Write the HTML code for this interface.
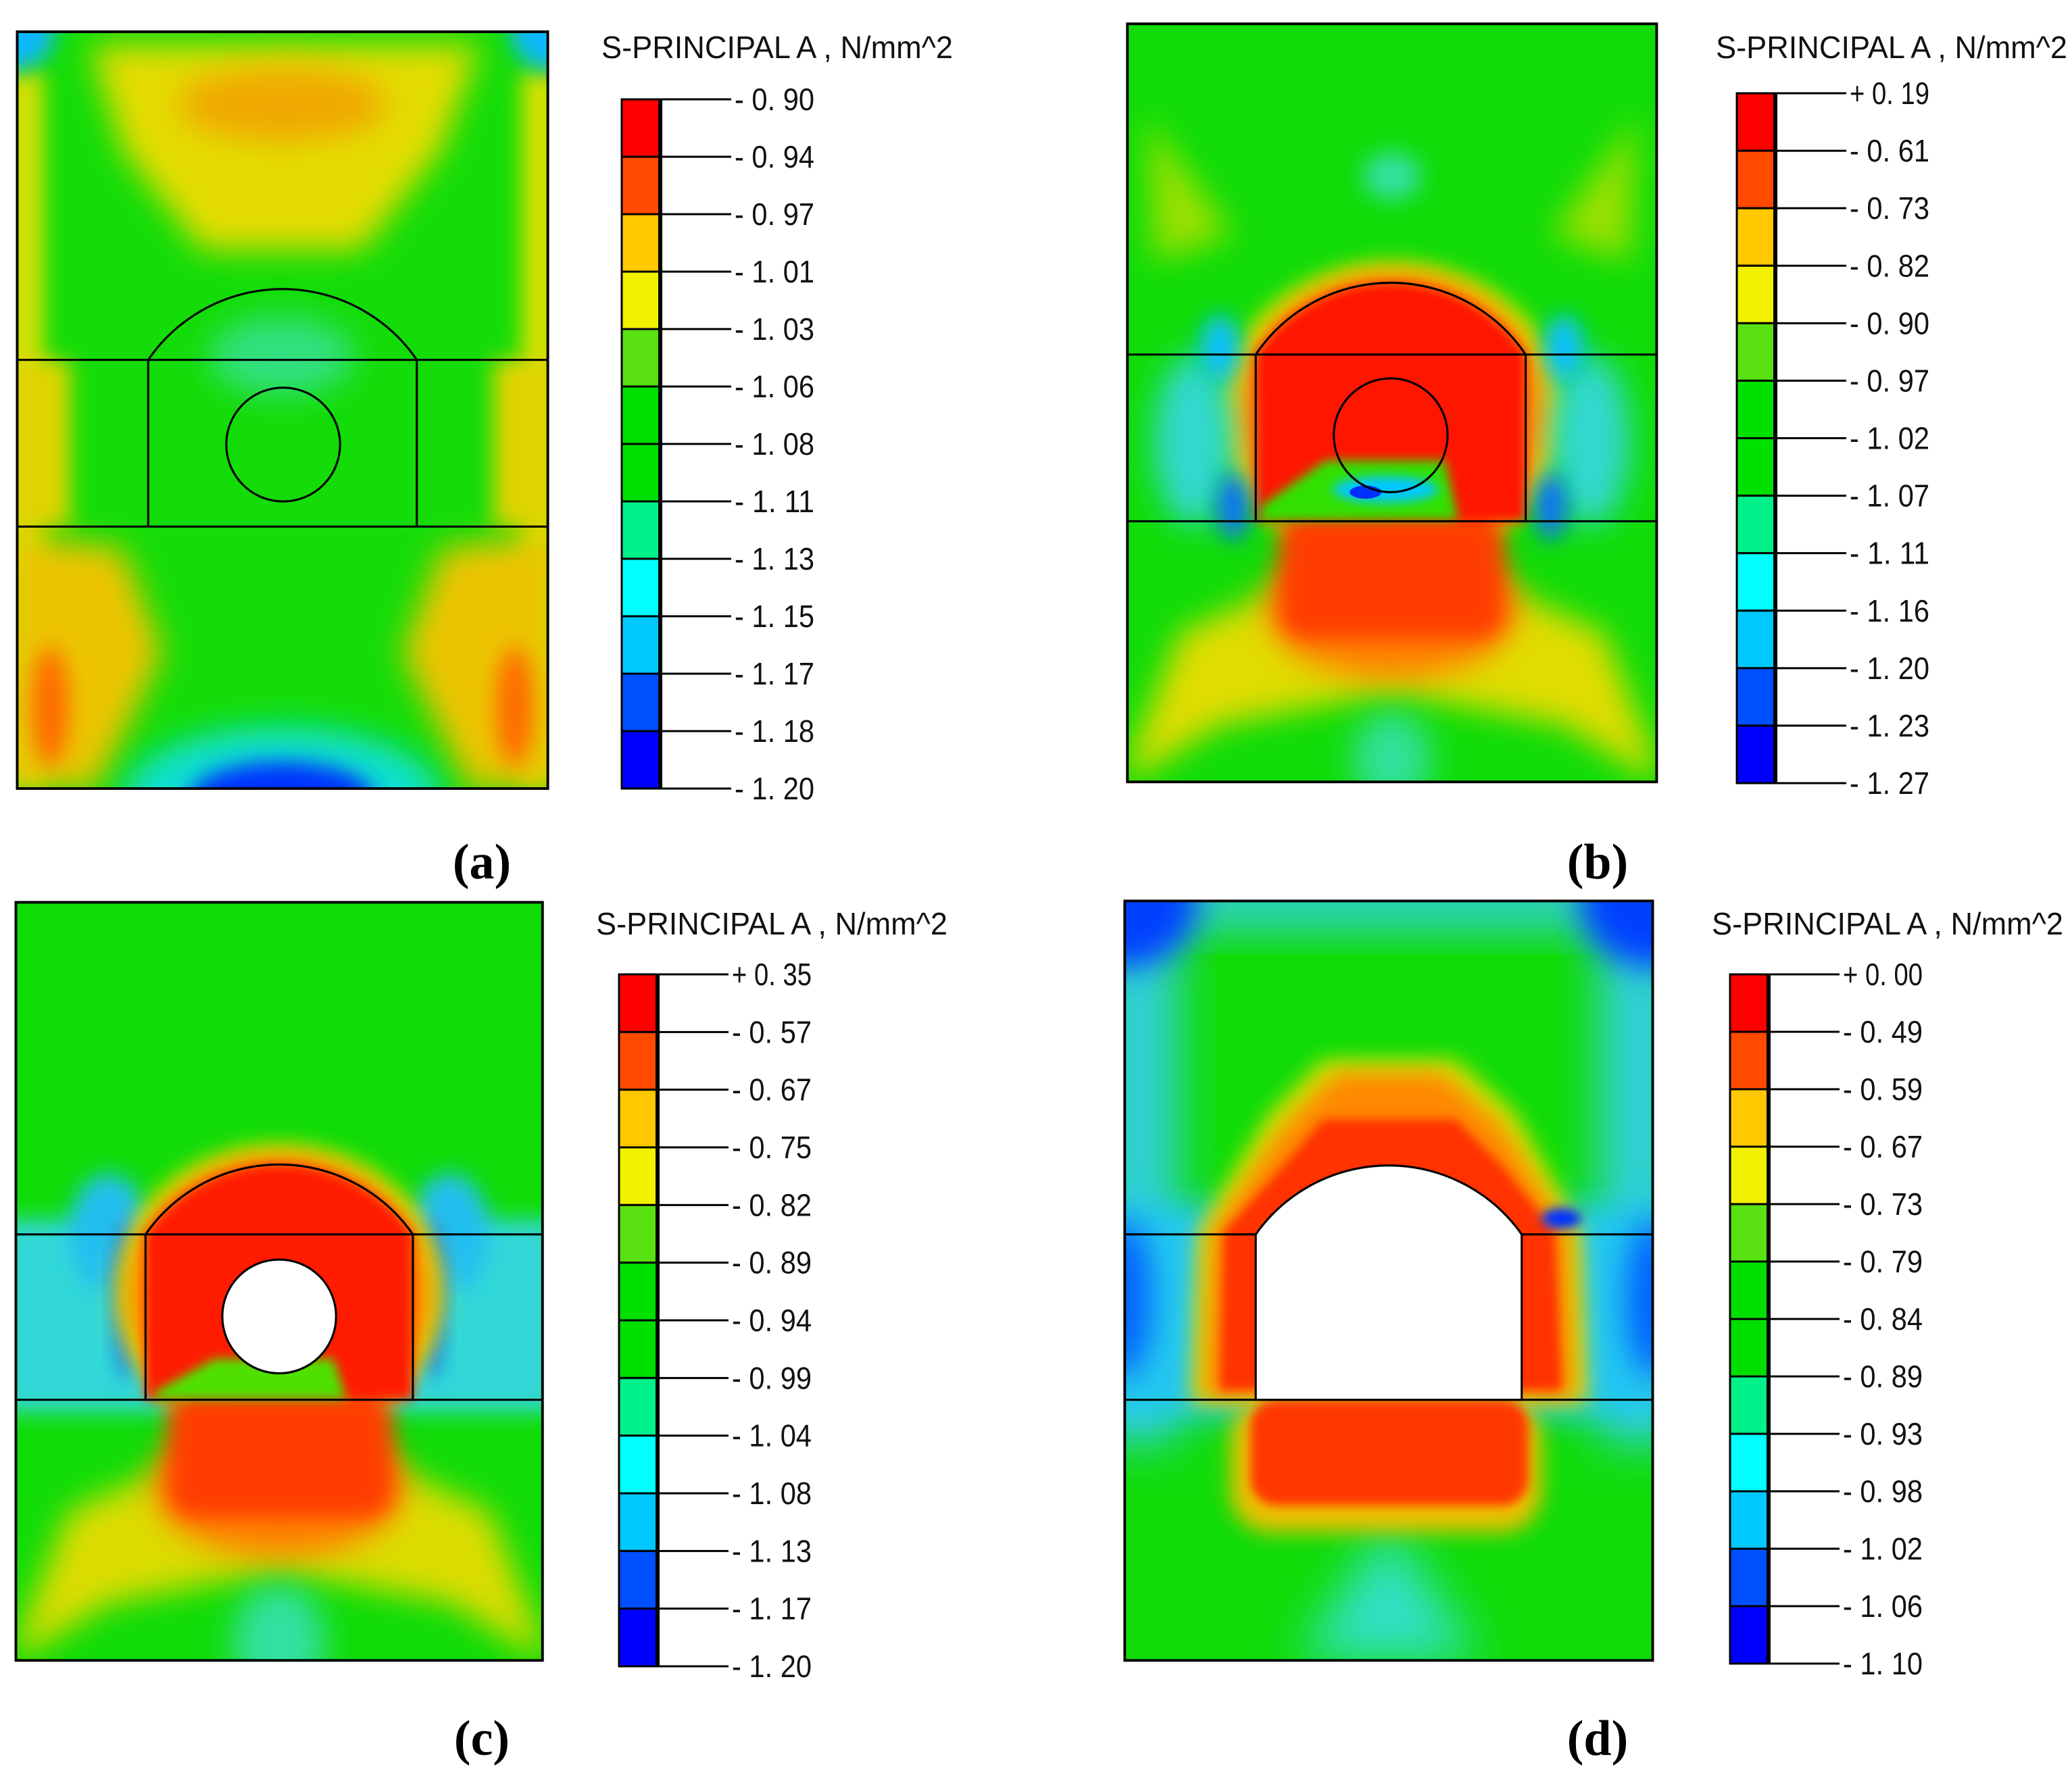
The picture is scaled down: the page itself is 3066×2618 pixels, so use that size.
<!DOCTYPE html>
<html><head><meta charset="utf-8"><style>
html,body{margin:0;padding:0;background:#fff;}
svg{display:block;}
</style></head><body>
<svg id="fig" xmlns="http://www.w3.org/2000/svg" width="3066" height="2618" viewBox="0 0 3066 2618">
<defs>
<filter id="b4" x="-50%" y="-50%" width="200%" height="200%"><feGaussianBlur stdDeviation="4"/></filter>
<filter id="b8" x="-50%" y="-50%" width="200%" height="200%"><feGaussianBlur stdDeviation="8"/></filter>
<filter id="b12" x="-50%" y="-50%" width="200%" height="200%"><feGaussianBlur stdDeviation="12"/></filter>
<filter id="b18" x="-50%" y="-50%" width="200%" height="200%"><feGaussianBlur stdDeviation="18"/></filter>
<clipPath id="ca"><rect x="0" y="0" width="401" height="572"/></clipPath>
<clipPath id="cb"><rect x="0" y="0" width="400" height="573"/></clipPath>
<clipPath id="cc"><rect x="0" y="0" width="398" height="573"/></clipPath>
<clipPath id="cd"><rect x="0" y="0" width="399" height="574"/></clipPath>
</defs>

<g transform="scale(1.958)">
<g transform="translate(13,24)">
 <g clip-path="url(#ca)">
  <rect width="401" height="572" fill="#14dc08"/>
  <rect x="-10" y="30" width="30" height="540" fill="#d6e000" filter="url(#b8)"/>
  <rect x="381" y="30" width="30" height="540" fill="#d6e000" filter="url(#b8)"/>
  <polygon points="55,10 350,10 320,90 260,165 140,165 80,90" fill="#e4dc00" filter="url(#b12)"/>
  <ellipse cx="200" cy="55" rx="80" ry="28" fill="#f0a800" filter="url(#b12)"/>
  <rect x="-10" y="248" width="50" height="126" fill="#e0d400" filter="url(#b8)"/>
  <rect x="360" y="248" width="50" height="126" fill="#e0d400" filter="url(#b8)"/>
  <polygon points="-5,380 80,390 110,470 60,572 -5,572" fill="#ecc400" filter="url(#b12)"/>
  <polygon points="406,380 321,390 291,470 341,572 406,572" fill="#ecc400" filter="url(#b12)"/>
  <ellipse cx="25" cy="510" rx="14" ry="45" fill="#ff6a00" filter="url(#b8)"/>
  <ellipse cx="376" cy="510" rx="14" ry="45" fill="#ff6a00" filter="url(#b8)"/>
  <ellipse cx="200" cy="245" rx="55" ry="30" fill="#30e080" filter="url(#b12)"/>
  <ellipse cx="200" cy="580" rx="120" ry="55" fill="#10e0d0" filter="url(#b12)"/>
  <ellipse cx="200" cy="580" rx="70" ry="28" fill="#0030ff" filter="url(#b8)"/>
  <ellipse cx="0" cy="0" rx="28" ry="28" fill="#10b8ff" filter="url(#b8)"/>
  <ellipse cx="401" cy="0" rx="28" ry="28" fill="#10b8ff" filter="url(#b8)"/>
 </g>
 <g fill="none" stroke="#000" stroke-width="1.6">
  <line x1="0" y1="248" x2="401" y2="248"/>
  <line x1="0" y1="374" x2="401" y2="374"/>
  <path d="M99,374 L99,248 A123,123 0 0 1 302,248 L302,374"/>
  <circle cx="201" cy="312" r="43"/>
  <rect x="0" y="0" width="401" height="572" stroke-width="2"/>
 </g>
</g>

<g transform="translate(852,18)">
 <g clip-path="url(#cb)">
  <rect width="400" height="573" fill="#10dc08"/>
  <polygon points="15,70 80,160 20,180" fill="#9ae000" filter="url(#b12)"/>
  <polygon points="385,70 320,160 380,180" fill="#9ae000" filter="url(#b12)"/>
  <ellipse cx="200" cy="115" rx="22" ry="18" fill="#30e0a0" filter="url(#b8)"/>
  <polygon points="0,560 40,460 130,420 270,420 360,460 400,560 400,573 330,530 200,505 70,530 0,573" fill="#e0dc00" filter="url(#b12)"/>
  <ellipse cx="200" cy="555" rx="30" ry="35" fill="#30e09a" filter="url(#b12)"/>
  <ellipse cx="200" cy="295" rx="130" ry="115" fill="#d8e000" filter="url(#b8)"/>
  <ellipse cx="200" cy="295" rx="118" ry="108" fill="#ff8c00" filter="url(#b8)"/>
  <ellipse cx="200" cy="440" rx="95" ry="55" fill="#ff8000" filter="url(#b12)"/>
  <rect x="115" y="370" width="170" height="95" rx="20" fill="#ff3c00" filter="url(#b8)"/>
  <path d="M97,376 L97,250 A123,123 0 0 1 301,250 L301,376 Z" fill="#ff1500" filter="url(#b4)"/>
  <polygon points="100,365 150,330 240,330 250,375 100,376" fill="#30e000" filter="url(#b4)"/>
  <ellipse cx="195" cy="352" rx="40" ry="10" fill="#00c8ff" filter="url(#b4)"/>
  <ellipse cx="180" cy="354" rx="12" ry="5" fill="#0030ff"/>
  <ellipse cx="50" cy="315" rx="30" ry="65" fill="#30d8d0" filter="url(#b12)"/>
  <ellipse cx="350" cy="315" rx="30" ry="65" fill="#30d8d0" filter="url(#b12)"/>
  <ellipse cx="70" cy="245" rx="15" ry="25" fill="#10c0ff" filter="url(#b8)"/>
  <ellipse cx="330" cy="245" rx="15" ry="25" fill="#10c0ff" filter="url(#b8)"/>
  <ellipse cx="80" cy="365" rx="12" ry="25" fill="#1070ff" filter="url(#b8)"/>
  <ellipse cx="320" cy="365" rx="12" ry="25" fill="#1070ff" filter="url(#b8)"/>
 </g>
 <g fill="none" stroke="#000" stroke-width="1.6">
  <line x1="0" y1="250" x2="400" y2="250"/>
  <line x1="0" y1="376" x2="400" y2="376"/>
  <path d="M97,376 L97,250 A123,123 0 0 1 301,250 L301,376"/>
  <circle cx="199" cy="311" r="43"/>
  <rect x="0" y="0" width="400" height="573" stroke-width="2"/>
 </g>
</g>

<g transform="translate(12,682)">
 <g clip-path="url(#cc)">
  <rect width="398" height="573" fill="#10dc08"/>
  <rect x="-10" y="240" width="418" height="145" fill="#30d8d8" filter="url(#b8)"/>
  <ellipse cx="70" cy="250" rx="30" ry="45" fill="#20c0f0" filter="url(#b8)"/>
  <ellipse cx="328" cy="250" rx="30" ry="45" fill="#20c0f0" filter="url(#b8)"/>
  <ellipse cx="85" cy="300" rx="10" ry="60" fill="#1060ff" filter="url(#b8)"/>
  <ellipse cx="313" cy="300" rx="10" ry="60" fill="#1060ff" filter="url(#b8)"/>
  <polygon points="0,560 40,460 130,420 270,420 358,460 398,560 398,573 330,530 199,505 70,530 0,573" fill="#dcdc00" filter="url(#b12)"/>
  <ellipse cx="199" cy="560" rx="35" ry="45" fill="#30e0a0" filter="url(#b12)"/>
  <ellipse cx="199" cy="295" rx="125" ry="112" fill="#d8e000" filter="url(#b8)"/>
  <ellipse cx="199" cy="295" rx="115" ry="105" fill="#ff8c00" filter="url(#b8)"/>
  <ellipse cx="199" cy="440" rx="95" ry="55" fill="#ff8000" filter="url(#b12)"/>
  <rect x="115" y="370" width="170" height="95" rx="20" fill="#ff3c00" filter="url(#b8)"/>
  <path d="M98,376 L98,251 A123,123 0 0 1 300,251 L300,376 Z" fill="#ff1f00" filter="url(#b4)"/>
  <polygon points="105,370 150,345 240,345 250,376 105,376" fill="#50e000" filter="url(#b4)"/>
 </g>
 <g fill="none" stroke="#000" stroke-width="1.6">
  <line x1="0" y1="251" x2="398" y2="251"/>
  <line x1="0" y1="376" x2="398" y2="376"/>
  <path d="M98,376 L98,251 A123,123 0 0 1 300,251 L300,376"/>
  <circle cx="199" cy="313" r="43" fill="#fff"/>
  <rect x="0" y="0" width="398" height="573" stroke-width="2"/>
 </g>
</g>

<g transform="translate(850,681)">
 <g clip-path="url(#cd)">
  <rect width="399" height="574" fill="#10dc08"/>
  <rect x="-20" y="-10" width="60" height="420" fill="#30d0e0" filter="url(#b18)"/>
  <rect x="359" y="-10" width="60" height="420" fill="#30d0e0" filter="url(#b18)"/>
  <rect x="-10" y="-20" width="420" height="40" fill="#30d0e0" filter="url(#b18)"/>
  <rect x="-10" y="230" width="140" height="160" fill="#20c8f0" filter="url(#b12)"/>
  <rect x="269" y="230" width="140" height="160" fill="#20c8f0" filter="url(#b12)"/>
  <ellipse cx="0" cy="0" rx="55" ry="50" fill="#0040ff" filter="url(#b12)"/>
  <ellipse cx="399" cy="0" rx="55" ry="50" fill="#0040ff" filter="url(#b12)"/>
  <ellipse cx="0" cy="300" rx="20" ry="60" fill="#0060ff" filter="url(#b12)"/>
  <ellipse cx="399" cy="300" rx="20" ry="60" fill="#0060ff" filter="url(#b12)"/>
  <polygon points="130,574 199,470 270,574" fill="#30e0c8" filter="url(#b18)"/>
  <polygon points="50,380 55,250 110,160 150,120 250,120 295,160 345,250 350,380" fill="#d8e000" filter="url(#b8)"/>
  <polygon points="60,375 65,250 120,170 160,130 240,130 285,170 335,250 340,375" fill="#ff8800" filter="url(#b8)"/>
  <polygon points="72,370 75,250 120,200 150,165 250,165 285,200 325,250 330,370" fill="#ff3000" filter="url(#b4)"/>
  <rect x="80" y="377" width="235" height="100" rx="30" fill="#f0c000" filter="url(#b8)"/>
  <rect x="95" y="377" width="210" height="80" rx="20" fill="#ff3800" filter="url(#b4)"/>
  <ellipse cx="330" cy="240" rx="15" ry="8" fill="#0030ff" filter="url(#b4)"/>
 </g>
 <g stroke="#000" stroke-width="1.6">
  <line x1="0" y1="252" x2="399" y2="252"/>
  <line x1="0" y1="377" x2="399" y2="377"/>
  <path d="M99,377 L99,252 A123,123 0 0 1 300,252 L300,377 Z" fill="#fff"/>
  <rect x="0" y="0" width="399" height="574" stroke-width="2" fill="none"/>
 </g>
</g>
</g>

<g id="legends"></g>
</svg>
<script>
const labelsA = ["- 0. 90","- 0. 94","- 0. 97","- 1. 01","- 1. 03","- 1. 06","- 1. 08","- 1. 11","- 1. 13","- 1. 15","- 1. 17","- 1. 18","- 1. 20"];
const labelsB = ["+ 0. 19","- 0. 61","- 0. 73","- 0. 82","- 0. 90","- 0. 97","- 1. 02","- 1. 07","- 1. 11","- 1. 16","- 1. 20","- 1. 23","- 1. 27"];
const labelsC = ["+ 0. 35","- 0. 57","- 0. 67","- 0. 75","- 0. 82","- 0. 89","- 0. 94","- 0. 99","- 1. 04","- 1. 08","- 1. 13","- 1. 17","- 1. 20"];
const labelsD = ["+ 0. 00","- 0. 49","- 0. 59","- 0. 67","- 0. 73","- 0. 79","- 0. 84","- 0. 89","- 0. 93","- 0. 98","- 1. 02","- 1. 06","- 1. 10"];
const bandColors = ["#ff0000","#ff4a00","#ffc800","#f2f200","#58e010","#00e000","#00e000","#00f08a","#00ffff","#00c8ff","#0050ff","#0000ff"];
const panelTags = ["(a)","(b)","(c)","(d)"];

const NS = "http://www.w3.org/2000/svg";
const L = document.getElementById("legends");
function mk(tag, attrs, parent){
  const e = document.createElementNS(NS, tag);
  for (const k in attrs) e.setAttribute(k, attrs[k]);
  parent.appendChild(e);
  return e;
}
const panels = [
  {id:"a", labels:labelsA, x0:920, x1:977, y0:147, y1:1167, tx:890, ty:86, px:713, py:1300},
  {id:"b", labels:labelsB, x0:2570, x1:2627, y0:138, y1:1159, tx:2539, ty:86, px:2364, py:1300},
  {id:"c", labels:labelsC, x0:916, x1:973, y0:1442, y1:2466, tx:882, ty:1383, px:713, py:2597},
  {id:"d", labels:labelsD, x0:2560, x1:2617, y0:1442, y1:2462, tx:2533, ty:1383, px:2364, py:2597}
];
panels.forEach((p, pi) => {
  const g = mk("g", {}, L);
  
  
  const t = mk("text", {x:p.tx, y:p.ty, "font-family":"Liberation Sans, sans-serif", "font-size":"46", fill:"#111", textLength:"520", lengthAdjust:"spacingAndGlyphs"}, g);
  t.textContent = "S-PRINCIPAL  A  ,  N/mm^2";
  
  
  const n = bandColors.length;
  const step = (p.y1 - p.y0) / n;
  bandColors.forEach((c, i) => {
    const r = mk("rect", {x:p.x0, y:p.y0 + i*step, width:p.x1-p.x0, height:step, fill:c, stroke:"#000", "stroke-width":"3"}, g);
    
    
  });
  mk("line", {x1:p.x1, y1:p.y0, x2:p.x1, y2:p.y1, stroke:"#000", "stroke-width":"6"}, g);
  p.labels.forEach((lab, i) => {
    const y = p.y0 + i*step;
    const ln = mk("line", {x1:p.x1, y1:y, x2:p.x1+105, y2:y, stroke:"#000", "stroke-width":"3"}, g);
    
    
    const tx = mk("text", {x:p.x1+110, y:y+16, "font-family":"Liberation Sans, sans-serif", "font-size":"46", fill:"#111", textLength:"118", lengthAdjust:"spacingAndGlyphs"}, g);
    tx.textContent = lab;
    
    
  });
  const pt = mk("text", {x:p.px, y:p.py, "text-anchor":"middle", "font-family":"Liberation Serif, serif", "font-size":"74", "font-weight":"bold", fill:"#000"}, g);
  pt.textContent = panelTags[pi];
  
  
});
</script>
</body></html>
